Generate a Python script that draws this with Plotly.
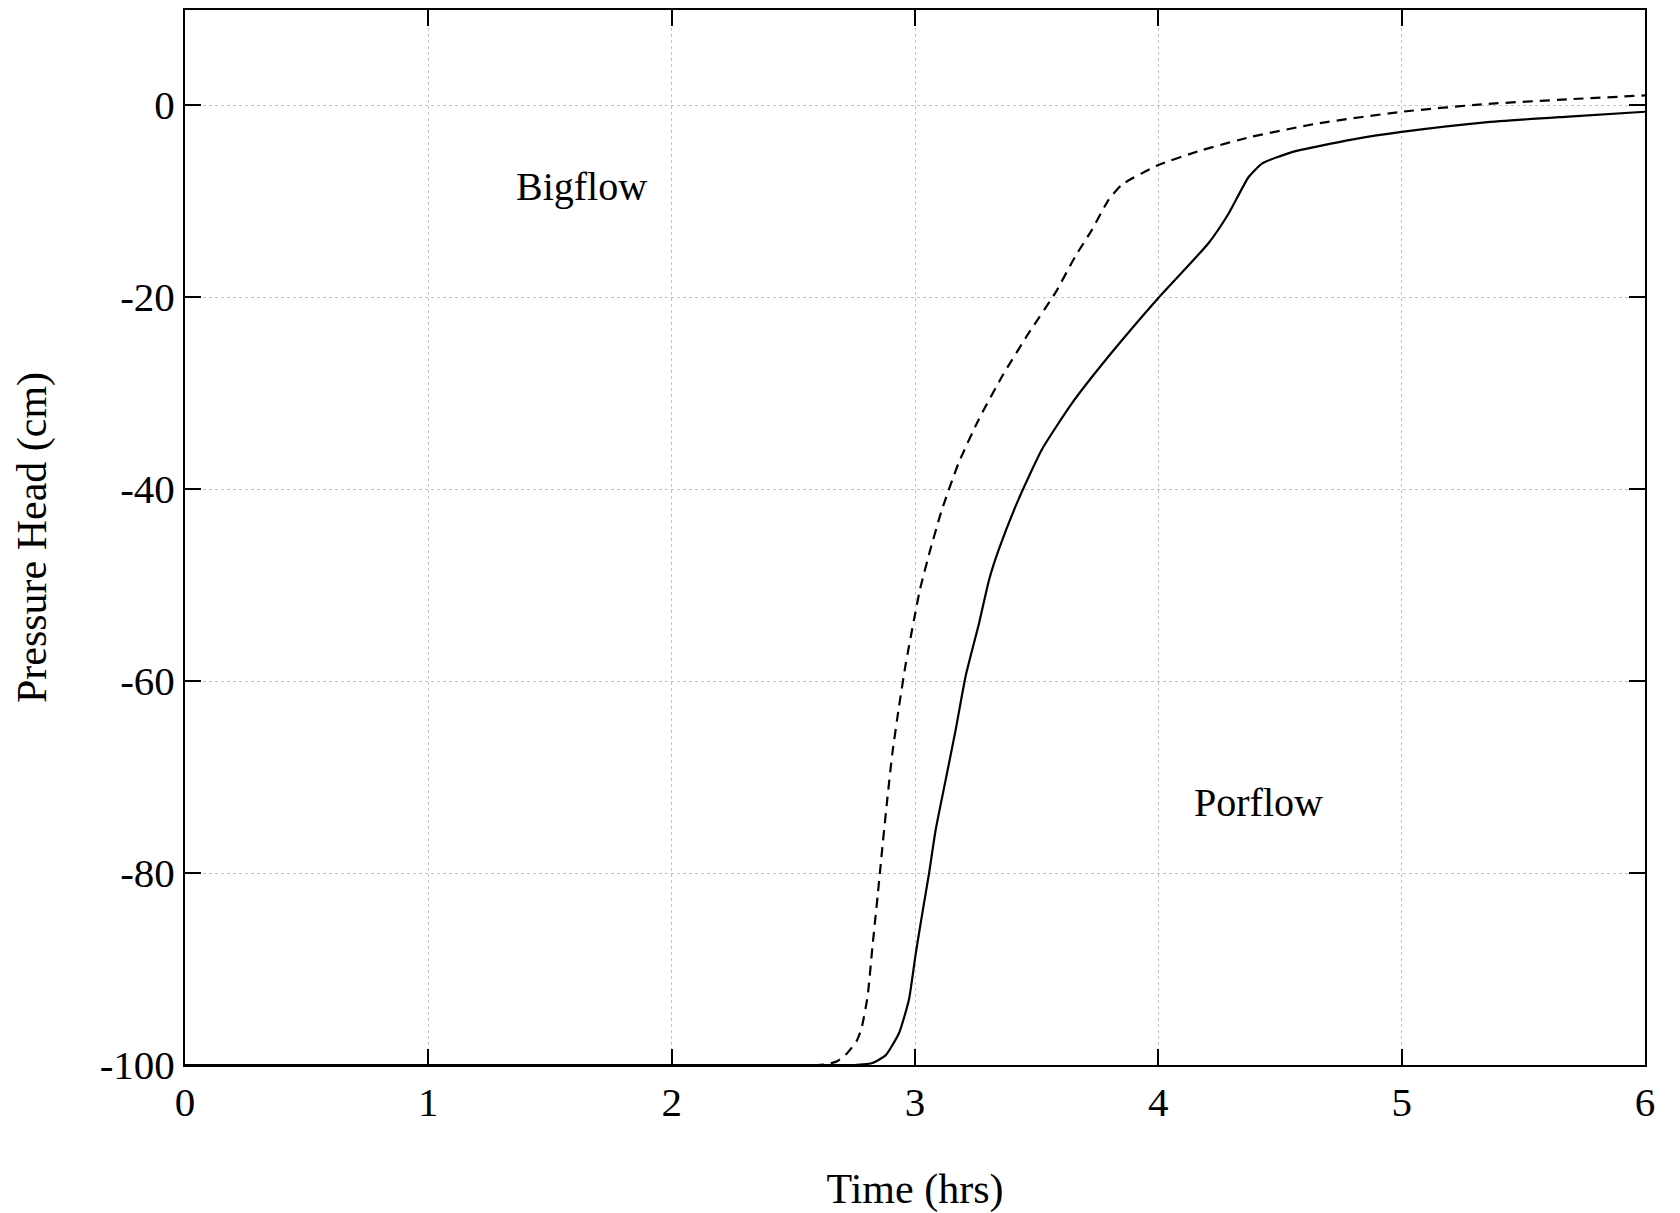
import plotly.graph_objects as go

# Bigflow (dashed) series
bigflow_t = [0, 2.60, 2.64, 2.68, 2.72, 2.76, 2.78, 2.805, 2.825, 2.846, 2.866, 2.887, 2.907,
             2.934, 2.962, 2.996, 3.020, 3.062, 3.110, 3.179, 3.261, 3.357, 3.466, 3.576,
             3.658, 3.727, 3.795, 3.850, 4.0, 4.179, 4.384, 4.659, 5.0, 5.343, 5.686, 6.0]
bigflow_h = [-100, -100, -99.9, -99.6, -98.8, -97.5, -96.2, -92.9, -87.7, -82.5, -77.3, -72.1, -67.5,
             -62.7, -58.2, -53.6, -50.5, -46.4, -42.2, -37.3, -32.8, -28.3, -23.8, -19.6,
             -15.8, -13.0, -9.9, -8.3, -6.25, -4.7, -3.3, -1.9, -0.7, 0.1, 0.6, 1.0]

# Porflow (solid) series
porflow_t = [0, 2.75, 2.80, 2.825, 2.879, 2.934, 2.975, 3.003, 3.030, 3.058, 3.085, 3.126,
             3.167, 3.208, 3.263, 3.304, 3.343, 3.425, 3.521, 3.644, 3.795, 4.0, 4.206,
             4.289, 4.371, 4.426, 4.549, 4.795, 5.0, 5.343, 5.686, 6.0]
porflow_h = [-100, -100, -99.9, -99.8, -99.0, -96.7, -93.2, -88.4, -84.2, -80.0, -75.5, -70.3,
             -65.1, -59.5, -54.0, -49.5, -46.4, -41.1, -35.9, -31.1, -26.2, -20.1, -14.4,
             -11.3, -7.5, -6.1, -4.9, -3.6, -2.8, -1.8, -1.2, -0.7]

x_ticks = [0, 1, 2, 3, 4, 5, 6]
y_ticks = [0, -20, -40, -60, -80, -100]

labels = ["Bigflow", "Porflow"]
label_x = [1.63, 4.41]
label_y = [-8.5, -72.7]

FONT = "Liberation Serif, Times New Roman, serif"

fig = go.Figure()
fig.add_trace(go.Scatter(x=bigflow_t, y=bigflow_h, mode="lines", name="Bigflow",
                         line=dict(color="black", width=2.2, dash="10px,7px",
                                   shape="spline", smoothing=0.5),
                         showlegend=False))
fig.add_trace(go.Scatter(x=porflow_t, y=porflow_h, mode="lines", name="Porflow",
                         line=dict(color="black", width=2.2, shape="spline", smoothing=0.5),
                         showlegend=False))

for txt, lx, ly in zip(labels, label_x, label_y):
    fig.add_annotation(x=lx, y=ly, text=txt, showarrow=False,
                       font=dict(family=FONT, size=40, color="black"))

axis_common = dict(
    showline=True, linecolor="black", linewidth=2, mirror="ticks",
    ticks="inside", ticklen=16, tickwidth=2, tickcolor="black",
    showgrid=True, gridcolor="#c4c4c4", gridwidth=1, griddash="dot",
    zeroline=False, tickfont=dict(family=FONT, size=41, color="black"),
    automargin=False,
)

fig.update_xaxes(range=[0, 6], tickvals=x_ticks, ticktext=[str(v) for v in x_ticks],
                 title=dict(text="Time (hrs)", font=dict(family=FONT, size=42, color="black"),
                            standoff=55),
                 **axis_common)
fig.update_yaxes(range=[-100, 9.9], tickvals=y_ticks, ticktext=[str(v) for v in y_ticks],
                 title=dict(text="Pressure Head (cm)", font=dict(family=FONT, size=42, color="black"),
                            standoff=40),
                 **axis_common)

fig.update_layout(
    width=1680, height=1213,
    margin=dict(l=185, r=35, t=10, b=148),
    plot_bgcolor="white", paper_bgcolor="white",
    font=dict(family=FONT, color="black"),
)

fig.write_html("out.html")
